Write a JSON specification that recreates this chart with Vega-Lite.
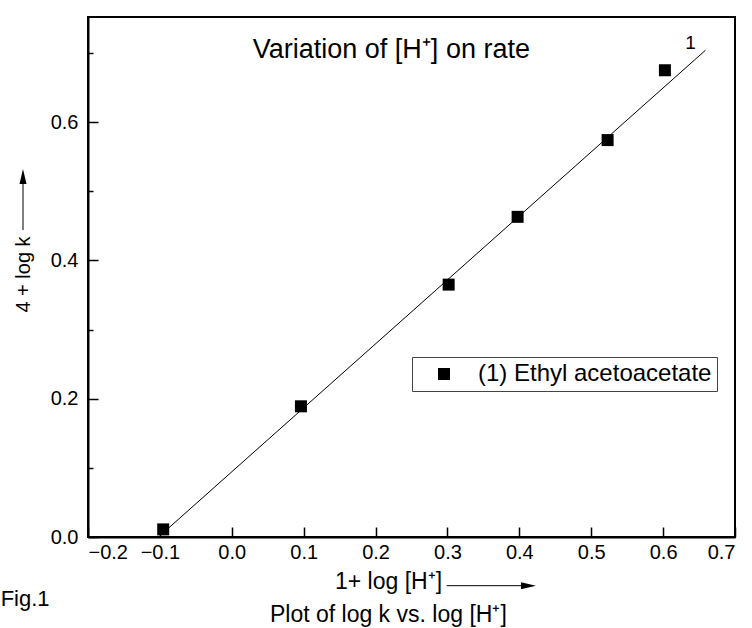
{
  "$schema": "https://vega.github.io/schema/vega-lite/v6.json",
  "autosize": {"type": "none"},
  "width": 647,
  "height": 520,
  "padding": {"left": 88, "top": 17, "right": 17, "bottom": 91},
  "background": "white",
  "config": {
    "font": "Liberation Sans",
    "view": {"stroke": "black", "strokeWidth": 2},
    "axis": {"grid": false, "domainColor": "black", "domainWidth": 2, "tickColor": "black", "tickWidth": 1.5, "labelColor": "black", "titleColor": "black", "labelFont": "Liberation Sans", "titleFont": "Liberation Sans", "titleFontWeight": "normal"}
  },
  "datasets": {
    "points": [
      {"x": -0.0954, "y": 0.011, "series": "(1) Ethyl acetoacetate"},
      {"x": 0.0962, "y": 0.189, "series": "(1) Ethyl acetoacetate"},
      {"x": 0.3017, "y": 0.365, "series": "(1) Ethyl acetoacetate"},
      {"x": 0.3976, "y": 0.463, "series": "(1) Ethyl acetoacetate"},
      {"x": 0.5228, "y": 0.574, "series": "(1) Ethyl acetoacetate"},
      {"x": 0.6025, "y": 0.675, "series": "(1) Ethyl acetoacetate"}
    ],
    "fit": [
      {"x": -0.0883, "y": 0.0126},
      {"x": 0.659, "y": 0.704}
    ],
    "one": [{}]
  },
  "layer": [
    {
      "data": {"name": "fit"},
      "mark": {"type": "line", "color": "black", "strokeWidth": 1},
      "encoding": {
        "x": {"field": "x", "type": "quantitative", "scale": {"domain": [-0.2, 0.7], "nice": false, "zero": false},
          "axis": {"values": [-0.2, -0.1, 0, 0.1, 0.2, 0.3, 0.4, 0.5, 0.6, 0.7], "format": ".1f", "tickSize": -10, "labelPadding": 15, "labelFontSize": 20,
            "title": "1+ log [H⁺]", "titleFontSize": 23, "titleX": 300, "titleY": 51, "titleAlign": "center", "titleBaseline": "alphabetic"}},
        "y": {"field": "y", "type": "quantitative", "scale": {"domain": [0, 0.752], "nice": false, "zero": false},
          "axis": {"values": [0, 0.1, 0.2, 0.3, 0.4, 0.5, 0.6, 0.7], "format": ".1f", "labelExpr": "round(datum.value*10) % 2 == 0 ? datum.label : ''",
            "tickSize": {"condition": {"test": "round(datum.value*10) % 2 == 1", "value": -5}, "value": -10},
            "labelPadding": 20, "labelFontSize": 20,
            "title": "4 + log k", "titleFontSize": 20, "titleAngle": -90, "titleX": -65, "titleY": 257, "titleAlign": "center", "titleBaseline": "middle"}}
      }
    },
    {
      "data": {"name": "points"},
      "mark": {"type": "point", "shape": "square", "filled": true, "size": 144, "opacity": 1},
      "encoding": {
        "x": {"field": "x", "type": "quantitative"},
        "y": {"field": "y", "type": "quantitative"},
        "color": {"field": "series", "type": "nominal", "scale": {"range": ["black"]},
          "legend": {"title": null, "orient": "none", "legendX": 324, "legendY": 340, "strokeColor": "#444", "padding": 5,
            "symbolType": "square", "symbolSize": 144, "symbolOffset": 15, "labelOffset": 22, "labelFontSize": 24, "labelFont": "Liberation Sans", "labelColor": "black", "labelLimit": 400}}
      }
    },
    {
      "data": {"name": "one"},
      "mark": {"type": "text", "fontSize": 27, "align": "center", "baseline": "alphabetic", "color": "black"},
      "encoding": {"x": {"datum": 0.222}, "y": {"datum": 0.6925}, "text": {"value": "Variation of [H⁺] on rate"}}
    },
    {
      "data": {"name": "one"},
      "mark": {"type": "text", "fontSize": 19, "align": "center", "baseline": "alphabetic", "color": "black"},
      "encoding": {"x": {"datum": 0.638}, "y": {"datum": 0.7055}, "text": {"value": "1"}}
    },
    {
      "data": {"name": "one"},
      "mark": {"type": "text", "fontSize": 23, "align": "center", "baseline": "alphabetic", "color": "black"},
      "encoding": {"x": {"datum": 0.2178}, "y": {"datum": -0.1224}, "text": {"value": "Plot of log k vs. log [H⁺]"}}
    },
    {
      "data": {"name": "one"},
      "mark": {"type": "text", "fontSize": 22, "align": "left", "baseline": "alphabetic", "color": "black"},
      "encoding": {"x": {"datum": -0.3215}, "y": {"datum": -0.0993}, "text": {"value": "Fig.1"}}
    },
    {
      "data": {"name": "one"},
      "mark": {"type": "rule", "color": "black", "strokeWidth": 1},
      "encoding": {"x": {"datum": 0.2989}, "x2": {"datum": 0.415}, "y": {"datum": -0.0704}}
    },
    {
      "data": {"name": "one"},
      "mark": {"type": "point", "shape": "M-1,-0.47L1,0L-1,0.47Z", "filled": true, "size": 225, "color": "black", "opacity": 1},
      "encoding": {"x": {"datum": 0.4127}, "y": {"datum": -0.0704}}
    },
    {
      "data": {"name": "one"},
      "mark": {"type": "rule", "color": "black", "strokeWidth": 1},
      "encoding": {"x": {"datum": -0.2904}, "y": {"datum": 0.4438}, "y2": {"datum": 0.515}}
    },
    {
      "data": {"name": "one"},
      "mark": {"type": "point", "shape": "M-0.47,1L0,-1L0.47,1Z", "filled": true, "size": 225, "color": "black", "opacity": 1},
      "encoding": {"x": {"datum": -0.2904}, "y": {"datum": 0.5212}}
    }
  ]
}
